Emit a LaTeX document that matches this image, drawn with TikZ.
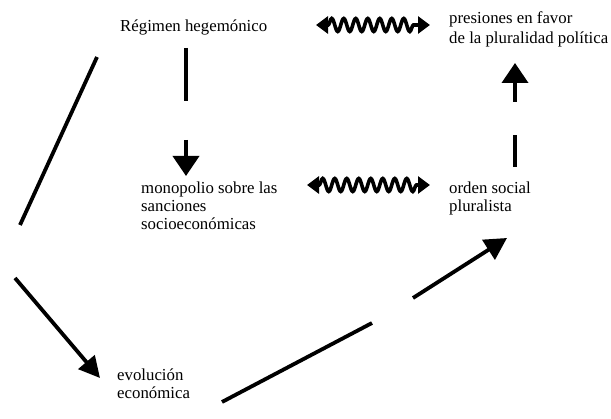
\documentclass[tikz,border=0pt]{standalone}
\usepackage{fontspec}
\setmainfont{Liberation Serif}
\usetikzlibrary{arrows.meta,decorations.pathmorphing}
\begin{document}
\begin{tikzpicture}[x=1pt,y=-1pt,
  lbl/.style={anchor=base west,inner sep=0pt,font=\fontsize{16.8}{19}\selectfont},
  conn/.style={line width=3.8pt},
  arr/.style={line width=3.8pt,-{Triangle[width=26pt,length=20pt]}},
  wavy/.style={line width=3.6pt,decorate,
    decoration={snake,amplitude=6.5pt,segment length=12pt,pre length=12pt,post length=12pt}},
  smalltip/.style={{Triangle[width=17pt,length=12pt]}-{Triangle[width=17pt,length=12pt]}}]
\useasboundingbox (0,0) rectangle (611,419);
% texts
\node[lbl] (reg) at (120,32) {Régimen hegemónico};
\node[lbl] (pres1) at (449,24) {presiones en favor};
\node[lbl] (pres2) at (449,44) {de la pluralidad política};
\node[lbl] (mon1) at (141,194) {monopolio sobre las};
\node[lbl] (mon2) at (141,212) {sanciones};
\node[lbl] (mon3) at (141,230) {socioeconómicas};
\node[lbl] (ord1) at (449,194) {orden social};
\node[lbl] (ord2) at (449,212) {pluralista};
\node[lbl] (evo1) at (117,381) {evolución};
\node[lbl] (evo2) at (117,399) {económica};
% connector points
\coordinate (v1a) at (186,48);
\coordinate (v1b) at (186,101);
\coordinate (v2a) at (186,140);
\coordinate (v2b) at (186,176);
\coordinate (r1a) at (515,167);
\coordinate (r1b) at (515,135);
\coordinate (r2a) at (515,102);
\coordinate (r2b) at (515,63);
\coordinate (wt1) at (316,25);
\coordinate (wt2) at (430,25);
\coordinate (wm1) at (307,185);
\coordinate (wm2) at (430,185);
\coordinate (l1a) at (97,57);
\coordinate (l1b) at (20,225);
\coordinate (l2a) at (15,278);
\coordinate (l2b) at (100,378);
\coordinate (b1a) at (222,402);
\coordinate (b1b) at (372,323);
\coordinate (b2a) at (413,298);
\coordinate (b2b) at (507,238);
% connectors
\draw[conn] (v1a) -- (v1b);
\draw[arr] (v2a) -- (v2b);
\draw[conn] (r1a) -- (r1b);
\draw[arr] (r2a) -- (r2b);
\draw[wavy,smalltip] (wt1) -- (wt2);
\draw[wavy,smalltip] (wm1) -- (wm2);
\draw[conn] (l1a) -- (l1b);
\draw[arr,-{Triangle[width=21pt,length=21pt]}] (l2a) -- (l2b);
\draw[conn] (b1a) -- (b1b);
\draw[arr,-{Triangle[width=23pt,length=22pt]}] (b2a) -- (b2b);
\end{tikzpicture}
\end{document}
